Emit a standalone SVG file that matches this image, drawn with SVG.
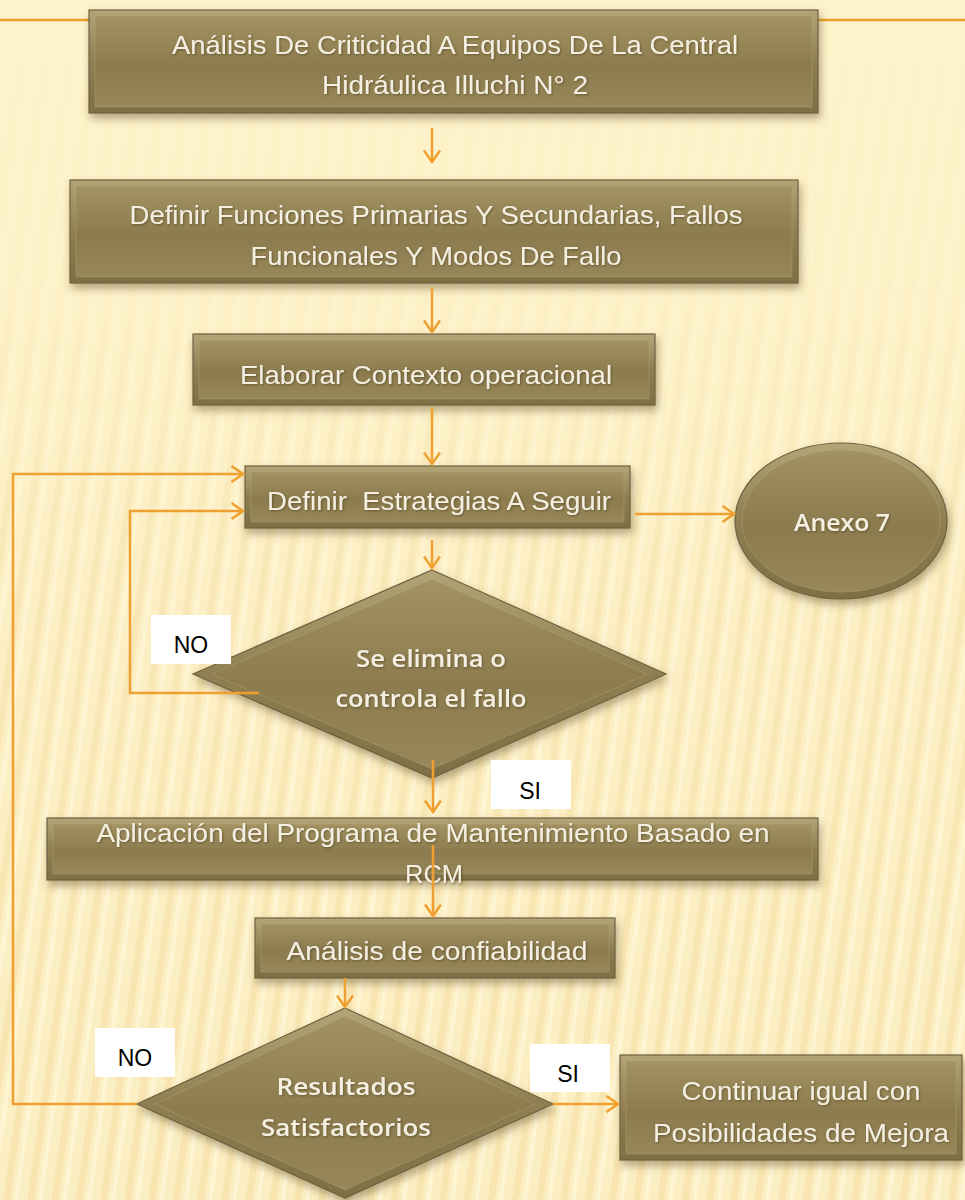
<svg xmlns="http://www.w3.org/2000/svg" width="965" height="1200" viewBox="0 0 965 1200">
<defs>
<pattern id="stripes" width="24" height="200" patternUnits="userSpaceOnUse" patternTransform="rotate(8)">
<rect width="24" height="200" fill="#FCEEC2"/>
<rect x="2" width="7" height="200" fill="#F3DC9E" opacity="0.6"/>
<rect x="13" width="4" height="200" fill="#FFF8DC" opacity="0.7"/>
</pattern>
<linearGradient id="fade" x1="0" y1="0" x2="0" y2="1">
<stop offset="0" stop-color="#FDF2CA" stop-opacity="1"/>
<stop offset="0.25" stop-color="#FDF2CA" stop-opacity="0.85"/>
<stop offset="0.5" stop-color="#FDF2CA" stop-opacity="0.3"/>
<stop offset="1" stop-color="#FDF2CA" stop-opacity="0.1"/>
</linearGradient>
<linearGradient id="bev" x1="0" y1="0" x2="0" y2="1">
<stop offset="0" stop-color="#B3A577"/>
<stop offset="0.5" stop-color="#8F7F52"/>
<stop offset="1" stop-color="#7E6F45"/>
</linearGradient>
<linearGradient id="face" x1="0" y1="0" x2="0" y2="1">
<stop offset="0" stop-color="#A39362"/>
<stop offset="0.55" stop-color="#8B7B4E"/>
<stop offset="1" stop-color="#978759"/>
</linearGradient>
<filter id="sh" x="-10%" y="-20%" width="125%" height="150%">
<feDropShadow dx="2" dy="5" stdDeviation="4" flood-color="#5a4a20" flood-opacity="0.45"/>
</filter>
<filter id="tsh" x="-5%" y="-20%" width="110%" height="150%">
<feDropShadow dx="1" dy="1" stdDeviation="0.8" flood-color="#3a3010" flood-opacity="0.5"/>
</filter>
<marker id="arr" viewBox="0 0 14 18" refX="12.5" refY="9" markerWidth="14" markerHeight="18" markerUnits="userSpaceOnUse" orient="auto">
<path d="M1,1 L12.5,9 L1,17" fill="none" stroke="#F0A030" stroke-width="2.5"/>
</marker>
<style>
.outer{fill:url(#bev);stroke:#6E6240;stroke-width:1.2;filter:url(#sh)}
.inner{fill:url(#face);stroke:#C2B48A;stroke-opacity:0.3;stroke-width:1}
.t{font-family:"Liberation Sans",Arial,sans-serif;font-size:26px;fill:#F4EFE0;text-anchor:middle;filter:url(#tsh)}
.tb{font-family:"Open Sans","Liberation Sans",Arial,sans-serif;font-weight:600;font-size:24px;fill:#F4EFE0;text-anchor:middle;filter:url(#tsh)}
.c{fill:none;stroke:#F0A030;stroke-width:2.5}
.lblbox{fill:#FFFFFF}
.lbl{font-family:"Liberation Sans",Arial,sans-serif;font-size:23px;fill:#000000;text-anchor:middle}
</style>
</defs>
<rect width="965" height="1200" fill="url(#stripes)"/>
<rect width="965" height="1200" fill="url(#fade)"/>
<path d="M0,20 H89 M818,20 H965" class="c"/>

<g id="n1">
<rect class="outer" x="89" y="10" width="729" height="103"/>
<rect class="inner" x="95" y="16" width="717" height="91"/>
<text class="t" x="455" y="54" textLength="566" lengthAdjust="spacingAndGlyphs">Análisis De Criticidad A Equipos De La Central</text>
<text class="t" x="455" y="94" textLength="266" lengthAdjust="spacingAndGlyphs">Hidráulica Illuchi N° 2</text>
</g>
<g id="n2">
<rect class="outer" x="70" y="180" width="728" height="103"/>
<rect class="inner" x="76" y="186" width="716" height="91"/>
<text class="t" x="436" y="224" textLength="613" lengthAdjust="spacingAndGlyphs">Definir Funciones Primarias Y Secundarias, Fallos</text>
<text class="t" x="436" y="265" textLength="371" lengthAdjust="spacingAndGlyphs">Funcionales Y Modos De Fallo</text>
</g>
<g id="n3">
<rect class="outer" x="193" y="334" width="462" height="71"/>
<rect class="inner" x="199" y="340" width="450" height="59"/>
<text class="t" x="426" y="384" textLength="372" lengthAdjust="spacingAndGlyphs">Elaborar Contexto operacional</text>
</g>
<g id="n4">
<rect class="outer" x="245" y="466" width="385" height="62"/>
<rect class="inner" x="251" y="472" width="373" height="50"/>
<text class="t" x="439" y="510" textLength="344" lengthAdjust="spacingAndGlyphs" xml:space="preserve">Definir  Estrategias A Seguir</text>
</g>
<g id="n5">
<ellipse class="outer" cx="841" cy="521" rx="106" ry="78"/>
<ellipse class="inner" cx="841" cy="521" rx="99" ry="71"/>
<text class="tb" x="842" y="531" textLength="96" lengthAdjust="spacingAndGlyphs">Anexo 7</text>
</g>
<g id="n6">
<polygon class="outer" points="432,570 666,674 432,778 193,674"/>
<polygon class="inner" points="432,579 647,674 432,769 212,674"/>
<text class="tb" x="431" y="667" textLength="150" lengthAdjust="spacingAndGlyphs">Se elimina o</text>
<text class="tb" x="431" y="707" textLength="191" lengthAdjust="spacingAndGlyphs">controla el fallo</text>
</g>
<g id="n7">
<rect class="outer" x="47" y="818" width="771" height="62"/>
<rect class="inner" x="53" y="824" width="759" height="50"/>
<text class="t" x="433" y="842" textLength="673" lengthAdjust="spacingAndGlyphs">Aplicación del Programa de Mantenimiento Basado en</text>
<text class="t" x="434" y="883" textLength="58" lengthAdjust="spacingAndGlyphs">RCM</text>
</g>
<g id="n8">
<rect class="outer" x="255" y="918" width="360" height="60"/>
<rect class="inner" x="261" y="924" width="348" height="48"/>
<text class="t" x="437" y="960" textLength="301" lengthAdjust="spacingAndGlyphs">Análisis de confiabilidad</text>
</g>
<g id="n9">
<polygon class="outer" points="345,1008 553,1104 345,1198 137,1104"/>
<polygon class="inner" points="345,1016 535,1104 345,1190 155,1104"/>
<text class="tb" x="346" y="1095" textLength="139" lengthAdjust="spacingAndGlyphs">Resultados</text>
<text class="tb" x="346" y="1136" textLength="170" lengthAdjust="spacingAndGlyphs">Satisfactorios</text>
</g>
<g id="n10">
<rect class="outer" x="620" y="1055" width="342" height="105"/>
<rect class="inner" x="626" y="1061" width="330" height="93"/>
<text class="t" x="801" y="1100" textLength="239" lengthAdjust="spacingAndGlyphs">Continuar igual con</text>
<text class="t" x="801" y="1142" textLength="296" lengthAdjust="spacingAndGlyphs">Posibilidades de Mejora</text>
</g>

<g id="connectors">
<path class="c" d="M432,128 V162" marker-end="url(#arr)"/>
<path class="c" d="M432,287 V332" marker-end="url(#arr)"/>
<path class="c" d="M432,407 V464" marker-end="url(#arr)"/>
<path class="c" d="M432,540 V568" marker-end="url(#arr)"/>
<path class="c" d="M635,514 H734" marker-end="url(#arr)"/>
<path class="c" d="M259,693 H130 V511 H243" marker-end="url(#arr)"/>
<path class="c" d="M137,1104 H13 V474 H243" marker-end="url(#arr)"/>
<path class="c" d="M433,760 V812" marker-end="url(#arr)"/>
<path class="c" d="M433,845 V916" marker-end="url(#arr)"/>
<path class="c" d="M345,978 V1007" marker-end="url(#arr)"/>
<path class="c" d="M553,1104 H618" marker-end="url(#arr)"/>
</g>

<g id="label-no1">
<rect class="lblbox" x="151" y="615" width="80" height="49"/>
<text class="lbl" x="191" y="653">NO</text>
</g>
<g id="label-si1">
<rect class="lblbox" x="491" y="760" width="80" height="49"/>
<text class="lbl" x="530" y="799">SI</text>
</g>
<g id="label-no2">
<rect class="lblbox" x="95" y="1028" width="80" height="49"/>
<text class="lbl" x="135" y="1066">NO</text>
</g>
<g id="label-si2">
<rect class="lblbox" x="530" y="1044" width="80" height="48"/>
<text class="lbl" x="568" y="1082">SI</text>
</g>
</svg>
